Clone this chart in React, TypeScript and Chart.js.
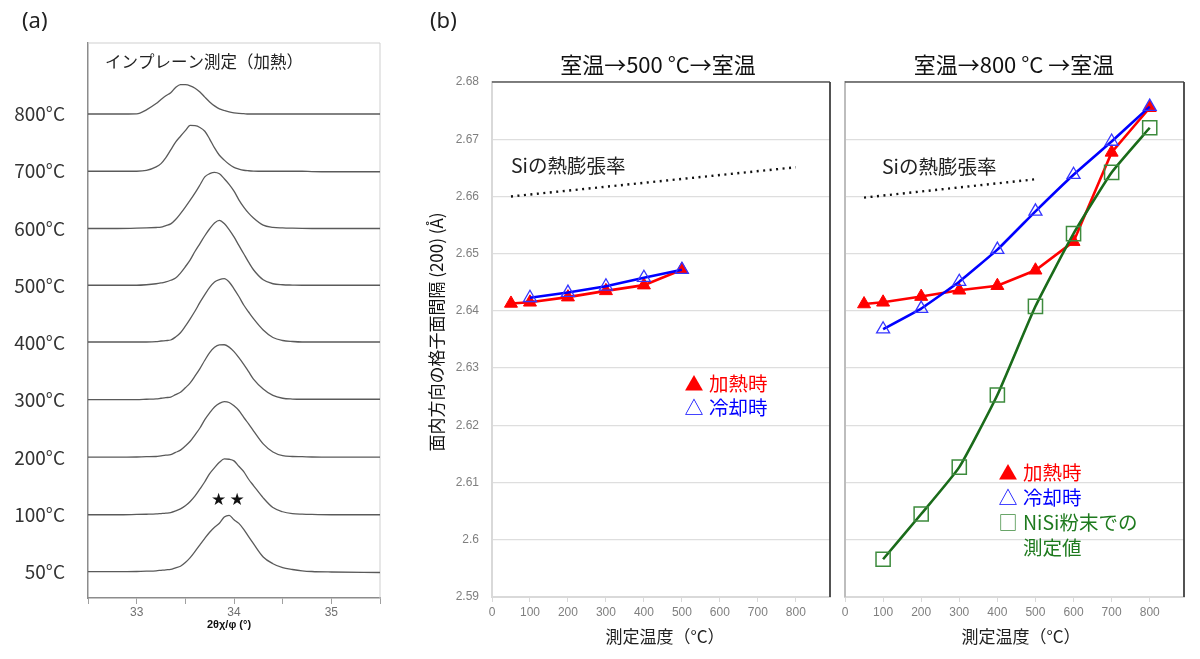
import React, { useEffect, useRef } from "react";
import { Chart, registerables } from "chart.js";

Chart.register(...registerables);

const JP = '"Noto Sans CJK JP", "Noto Sans", sans-serif';
const NUM = '"Liberation Sans", Arial, sans-serif';

// ---------- (a) in-plane diffraction profiles, stacked by temperature ----------
const TWO_THETA = [
  32.5, 32.8, 33.0, 33.1, 33.2, 33.25, 33.3, 33.35, 33.4, 33.45, 33.5, 33.55, 33.6, 33.65, 33.7, 33.75,
  33.8, 33.85, 33.9, 33.95, 34.0, 34.05, 34.1, 34.15, 34.2, 34.3, 34.4, 34.5, 34.6, 34.7, 34.8, 35.0, 35.5,
];
const PROFILE_LABELS = ["50°C", "100°C", "200°C", "300°C", "400°C", "500°C", "600°C", "700°C", "800°C"];
const I_50 = [0.3, 0.3, 0.5, 0.8, 1.2, 1.7, 2.2, 2.6, 4.2, 5.8, 9.5, 14.4, 20.6, 27.2, 33.7, 39.8, 44.8, 48.8, 54.9, 56.7, 52.3, 48.6, 42.7, 35.3, 28.3, 15, 8.3, 4.3, 2.5, 1.2, 0.5, 0, -0.5];
const I_100 = [0, 0, 0.3, 0.5, 0.8, 1.2, 1.6, 2.2, 3.8, 5.8, 8.9, 13.3, 18.9, 25.8, 33, 41.1, 47.1, 52.4, 55.8, 55.5, 53.9, 48.5, 43.1, 35.5, 29.2, 16.9, 7.2, 3, 1.2, 0.6, 0.3, 0, 0];
const I_200 = [0.3, 0.3, 0.5, 0.8, 1, 1.7, 2.3, 2.9, 5.1, 7.4, 11.5, 16.2, 22.7, 29.5, 37.9, 44.6, 50.5, 54.1, 55.8, 55, 51.7, 47, 40.1, 33.6, 26.7, 13.6, 5.5, 1.8, 1, 0.8, 0.5, 0.3, 0.3];
const I_300 = [0.7, 0.7, 0.7, 1, 1.3, 2, 2.6, 3.2, 5.6, 8, 12.5, 17.4, 24.3, 31.7, 40, 47.6, 52.9, 55.3, 55.5, 53.1, 48.6, 42.6, 35.9, 28.6, 21.2, 11.3, 4.8, 2, 1.2, 1, 1, 1, 1];
const I_400 = [1, 1, 1, 1, 1.3, 2, 2.4, 3, 6, 10.2, 16.8, 24.2, 32, 40.6, 48.4, 55.6, 61, 63.4, 64.3, 61, 54.2, 46.5, 38, 31, 24.3, 13, 5.5, 2.5, 1.5, 1, 1, 1, 1];
const I_500 = [0.5, 0.5, 0.5, 1, 2, 2.8, 3.8, 5.5, 7.7, 12.7, 19, 25.9, 34.5, 42.2, 50, 57, 62.8, 65.4, 62.2, 56.2, 48.8, 40.3, 32, 23.6, 16, 6, 2, 1, 0.7, 0.5, 0.5, 0.5, 0.5];
const I_600 = [0, 0, 0.3, 0.6, 1, 1.3, 2.9, 4.6, 9, 14.9, 21.4, 28.3, 35.6, 43.5, 51.6, 54.8, 56.2, 54.7, 49.8, 44.2, 37.4, 28.7, 21.4, 15.4, 10.5, 3.3, 1.2, 0.6, 0.3, 0.1, 0, 0, 0];
const I_700 = [0, 0, 0, 0.8, 4.4, 7.6, 13.6, 21.3, 29.1, 35, 40.6, 45.8, 45.6, 43.8, 40, 32.2, 23.3, 16, 11.1, 6.9, 3.9, 2.2, 1, 0.5, 0.2, 0, 0, 0, 0, 0, -0.3, -0.5, -0.5];
const I_800 = [0, 0, 0.2, 4.2, 10.4, 14.5, 18.3, 21.3, 26.5, 29.4, 29.3, 28.2, 25.8, 22, 16.9, 12.1, 8.1, 5.1, 3.5, 2.1, 1.2, 0.6, 0.3, 0, 0, 0, 0, 0, 0, 0, 0, 0, 0];
const PROFILES = [I_50, I_100, I_200, I_300, I_400, I_500, I_600, I_700, I_800];
const TRACE_STEP = 57.25;
const TWO_THETA_TICKS = [32.5, 33, 33.5, 34, 34.5, 35, 35.5];

// ---------- (b) in-plane (200) lattice spacing vs. temperature ----------
const TEMP_TICKS = [0, 100, 200, 300, 400, 500, 600, 700, 800];
const SPACING_TICKS = [2.59, 2.6, 2.61, 2.62, 2.63, 2.64, 2.65, 2.66, 2.67, 2.68];

// room temp -> 500 °C -> room temp
const HEAT_500_T = [50, 100, 200, 300, 400, 500];
const HEAT_500_D = [2.6413, 2.6415, 2.6424, 2.6435, 2.6445, 2.6472];
const COOL_500_T = [100, 200, 300, 400, 500];
const COOL_500_D = [2.6423, 2.6432, 2.6443, 2.6458, 2.6472];
const SI_500_T = [50, 800];
const SI_500_D = [2.66, 2.6651];

// room temp -> 800 °C -> room temp
const HEAT_800_T = [50, 100, 200, 300, 400, 500, 600, 700, 800];
const HEAT_800_D = [2.6412, 2.6415, 2.6425, 2.6436, 2.6444, 2.6471, 2.6521, 2.6677, 2.6755];
const COOL_800_T = [100, 200, 300, 400, 500, 600, 700, 800];
const COOL_800_D = [2.6368, 2.6404, 2.6451, 2.6507, 2.6574, 2.6638, 2.6696, 2.6757];
const NISI_T = [100, 200, 300, 400, 500, 600, 700, 800];
const NISI_D = [2.5966, 2.6045, 2.6127, 2.6253, 2.6408, 2.6535, 2.6642, 2.672];
const SI_800_T = [50, 500];
const SI_800_D = [2.6598, 2.663];

const RED = "#ff0000";
const BLUE = "#0000ff";
const GREEN_LINE = "#1a6b1a";
const GREEN_MARK = "#3d8b3d";
const GREEN_TEXT = "#1e7a1e";

type Label = {
  text: string;
  x: number;
  y: number;
  size: number;
  color: string;
  family?: string;
  weight?: string;
  align?: CanvasTextAlign;
  rotate?: number;
};

const textPlugin = (id: string, labels: Label[]) => ({
  id,
  afterDraw(chart: any) {
    const ctx: CanvasRenderingContext2D = chart.ctx;
    for (const l of labels) {
      ctx.save();
      ctx.translate(l.x, l.y);
      if (l.rotate) ctx.rotate(l.rotate);
      ctx.font = `${l.weight ?? "normal"} ${l.size}px ${l.family ?? JP}`;
      ctx.fillStyle = l.color;
      ctx.textAlign = l.align ?? "left";
      ctx.textBaseline = "middle";
      ctx.fillText(l.text, 0, 0);
      ctx.restore();
    }
  },
});

type Edge = [string, number];
const framePlugin = (id: string, edges: { top?: Edge; right?: Edge; left?: Edge }) => ({
  id,
  beforeDatasetsDraw(chart: any) {
    const { left, right, top, bottom } = chart.chartArea;
    const ctx: CanvasRenderingContext2D = chart.ctx;
    ctx.save();
    const line = (e: Edge | undefined, x1: number, y1: number, x2: number, y2: number) => {
      if (!e) return;
      ctx.strokeStyle = e[0];
      ctx.lineWidth = e[1];
      ctx.beginPath();
      ctx.moveTo(x1, y1);
      ctx.lineTo(x2, y2);
      ctx.stroke();
    };
    line(edges.top, left, top, right, top);
    line(edges.right, right, top, right, bottom);
    line(edges.left, left, top, left, bottom);
    ctx.restore();
  },
});

const xy = (xs: number[], ys: number[]) => xs.map((x, i) => ({ x, y: ys[i] }));

function makeProfiles(canvas: HTMLCanvasElement) {
  return new Chart(canvas, {
    type: "line",
    data: {
      datasets: PROFILES.map((vals, i) => ({
        data: TWO_THETA.map((t, k) => ({ x: t, y: i * TRACE_STEP + vals[k] })),
        borderColor: "#5a5a5a",
        borderWidth: 1.3,
        pointRadius: 0,
        cubicInterpolationMode: "monotone" as const,
        fill: false,
      })),
    },
    options: {
      responsive: false,
      animation: false,
      devicePixelRatio: 1,
      events: [],
      layout: { padding: { left: 0, top: 43, right: 820, bottom: 0 } },
      plugins: { legend: { display: false }, tooltip: { enabled: false } },
      scales: {
        x: {
          type: "linear",
          min: 32.5,
          max: 35.5,
          afterBuildTicks: (s: any) => {
            s.ticks = TWO_THETA_TICKS.map((v) => ({ value: v }));
          },
          afterFit: (s: any) => {
            s.height = 61;
          },
          ticks: {
            callback: (v: any) => (Number.isInteger(v) ? String(v) : ""),
            font: { family: NUM, size: 12 },
            color: "#707070",
            padding: 1,
            maxRotation: 0,
            autoSkip: false,
          },
          grid: { drawOnChartArea: false, drawTicks: true, tickLength: 6, color: "#a0a0a0" },
          border: { color: "#8c8c8c", width: 1.5 },
        },
        y: {
          type: "linear",
          min: -26,
          max: 529,
          afterBuildTicks: (s: any) => {
            s.ticks = PROFILE_LABELS.map((_, i) => ({ value: i * TRACE_STEP }));
          },
          afterFit: (s: any) => {
            s.width = 88;
          },
          ticks: {
            callback: (_v: any, i: number) => PROFILE_LABELS[i],
            font: { family: JP, size: 19 },
            color: "#333333",
            padding: 15,
            autoSkip: false,
          },
          grid: { display: false },
          border: { color: "#8c8c8c", width: 1.5 },
        },
      },
    },
    plugins: [
      framePlugin("frameA", { top: ["#cfcfcf", 1], right: ["#cfcfcf", 1] }),
      textPlugin("textA", [
        { text: "(a)", x: 22, y: 22, size: 22, color: "#222", family: '"Noto Sans", sans-serif' },
        { text: "インプレーン測定（加熱）", x: 105, y: 62, size: 16.5, color: "#222" },
        { text: "★", x: 218.5, y: 501, size: 17, color: "#111", family: '"DejaVu Sans", sans-serif', align: "center" },
        { text: "★", x: 237, y: 501, size: 17, color: "#111", family: '"DejaVu Sans", sans-serif', align: "center" },
        { text: "2θχ/φ (°)", x: 229, y: 625, size: 11, color: "#111", family: NUM, weight: "bold", align: "center" },
      ]),
    ],
  } as any);
}

function spacingScales(yWidth: number, showY: boolean, yBorder: string) {
  return {
    x: {
      type: "linear",
      min: 0,
      max: 890,
      afterBuildTicks: (s: any) => {
        s.ticks = TEMP_TICKS.map((v) => ({ value: v }));
      },
      afterFit: (s: any) => {
        s.height = 62;
      },
      ticks: { font: { family: NUM, size: 12 }, color: "#7f7f7f", padding: 3, maxRotation: 0, autoSkip: false },
      grid: { drawOnChartArea: false, drawTicks: true, tickLength: 5, color: "#d9d9d9" },
      border: { color: "#d9d9d9", width: 2 },
    },
    y: {
      type: "linear",
      min: 2.59,
      max: 2.68,
      afterBuildTicks: (s: any) => {
        s.ticks = SPACING_TICKS.map((v) => ({ value: v }));
      },
      afterFit: (s: any) => {
        s.width = yWidth;
      },
      ticks: {
        display: showY,
        callback: (v: any) => String(Number(Number(v).toFixed(2))),
        font: { family: NUM, size: 12 },
        color: "#7f7f7f",
        padding: 13,
        autoSkip: false,
      },
      grid: { color: "#dedede", lineWidth: 1.3, drawTicks: false },
      border: { color: yBorder, width: 2 },
    },
  };
}

const heatSet = (xs: number[], ys: number[]) => ({
  data: xy(xs, ys),
  borderColor: RED,
  borderWidth: 2.6,
  pointStyle: "triangle",
  pointRadius: 7.5,
  pointBackgroundColor: RED,
  pointBorderColor: RED,
  pointBorderWidth: 1,
  order: 3,
});

const coolSet = (xs: number[], ys: number[], tension: number) => ({
  data: xy(xs, ys),
  borderColor: BLUE,
  borderWidth: 2.6,
  tension,
  pointStyle: "triangle",
  pointRadius: 7.5,
  pointBackgroundColor: "rgba(0,0,0,0)",
  pointBorderColor: "#3535ff",
  pointBorderWidth: 1.3,
  order: 2,
});

const siSet = (xs: number[], ys: number[]) => ({
  data: xy(xs, ys),
  borderColor: "#111",
  borderWidth: 2.4,
  borderDash: [2, 4.5],
  pointRadius: 0,
  order: 4,
});

function makeLeft(canvas: HTMLCanvasElement) {
  return new Chart(canvas, {
    type: "line",
    data: {
      datasets: [siSet(SI_500_T, SI_500_D), heatSet(HEAT_500_T, HEAT_500_D), coolSet(COOL_500_T, COOL_500_D, 0)],
    },
    options: {
      responsive: false,
      animation: false,
      devicePixelRatio: 1,
      events: [],
      layout: { padding: { left: 420, top: 82, right: 370, bottom: 0 } },
      plugins: { legend: { display: false }, tooltip: { enabled: false } },
      scales: spacingScales(72, true, "#d9d9d9"),
    },
    plugins: [
      framePlugin("frameL", { top: ["#595959", 1.5], right: ["#404040", 1.8] }),
      textPlugin("textL", [
        { text: "(b)", x: 430, y: 22, size: 22, color: "#222", family: '"Noto Sans", sans-serif' },
        { text: "室温→500 °C→室温", x: 658, y: 65, size: 22, color: "#111", align: "center" },
        { text: "面内方向の格子面間隔 (200) (Å)", x: 437, y: 332, size: 17, color: "#111", align: "center", rotate: -Math.PI / 2 },
        { text: "Siの熱膨張率", x: 511, y: 166, size: 19.5, color: "#222" },
        { text: "▲", x: 694, y: 384, size: 19, color: RED, align: "center" },
        { text: "加熱時", x: 709, y: 384, size: 19.5, color: RED },
        { text: "△", x: 694, y: 408, size: 19, color: BLUE, align: "center" },
        { text: "冷却時", x: 709, y: 408, size: 19.5, color: BLUE },
        { text: "測定温度（°C）", x: 665, y: 637, size: 17, color: "#222", align: "center" },
      ]),
    ],
  } as any);
}

function makeRight(canvas: HTMLCanvasElement) {
  return new Chart(canvas, {
    type: "line",
    data: {
      datasets: [
        siSet(SI_800_T, SI_800_D),
        heatSet(HEAT_800_T, HEAT_800_D),
        coolSet(COOL_800_T, COOL_800_D, 0.1),
        {
          data: xy(NISI_T, NISI_D),
          borderColor: GREEN_LINE,
          borderWidth: 2.6,
          tension: 0.15,
          pointStyle: "rect",
          pointRadius: 10,
          pointBackgroundColor: "rgba(0,0,0,0)",
          pointBorderColor: GREEN_MARK,
          pointBorderWidth: 1.5,
          order: 1,
        },
      ],
    },
    options: {
      responsive: false,
      animation: false,
      devicePixelRatio: 1,
      events: [],
      layout: { padding: { left: 845, top: 82, right: 16, bottom: 0 } },
      plugins: { legend: { display: false }, tooltip: { enabled: false } },
      scales: spacingScales(0, false, "#bdbdbd"),
    },
    plugins: [
      framePlugin("frameR", { top: ["#595959", 1.5], right: ["#404040", 1.8] }),
      textPlugin("textR", [
        { text: "室温→800 °C →室温", x: 1014, y: 65, size: 22, color: "#111", align: "center" },
        { text: "Siの熱膨張率", x: 882, y: 167, size: 19.5, color: "#222" },
        { text: "▲", x: 1008, y: 473, size: 19, color: RED, align: "center" },
        { text: "加熱時", x: 1023, y: 473, size: 19.5, color: RED },
        { text: "△", x: 1008, y: 498, size: 19, color: BLUE, align: "center" },
        { text: "冷却時", x: 1023, y: 498, size: 19.5, color: BLUE },
        { text: "□", x: 1008, y: 523, size: 19, color: GREEN_MARK, align: "center" },
        { text: "NiSi粉末での", x: 1023, y: 523, size: 19.5, color: GREEN_TEXT },
        { text: "測定値", x: 1023, y: 548, size: 19.5, color: GREEN_TEXT },
        { text: "測定温度（°C）", x: 1021, y: 637, size: 17, color: "#222", align: "center" },
      ]),
    ],
  } as any);
}

export default function App() {
  const aRef = useRef<HTMLCanvasElement>(null);
  const bRef = useRef<HTMLCanvasElement>(null);
  const cRef = useRef<HTMLCanvasElement>(null);

  useEffect(() => {
    const charts = [makeProfiles(aRef.current!), makeLeft(bRef.current!), makeRight(cRef.current!)];
    return () => charts.forEach((c) => c.destroy());
  }, []);

  const canvasStyle: React.CSSProperties = { position: "absolute", left: 0, top: 0, width: 1200, height: 659 };
  return (
    <div style={{ position: "absolute", left: 0, top: 0, width: 1200, height: 659, background: "#fff", overflow: "hidden" }}>
      <canvas ref={aRef} width={1200} height={659} style={canvasStyle} />
      <canvas ref={bRef} width={1200} height={659} style={canvasStyle} />
      <canvas ref={cRef} width={1200} height={659} style={canvasStyle} />
    </div>
  );
}
